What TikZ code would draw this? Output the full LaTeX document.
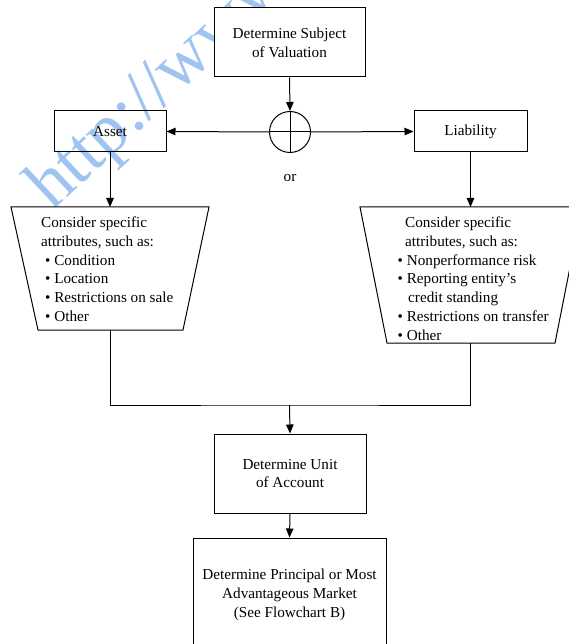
\documentclass[tikz,border=0pt]{standalone}
\usepackage{fontspec}
\setmainfont{Liberation Serif}
\usetikzlibrary{arrows.meta}
\definecolor{wmblue}{RGB}{160,196,240}
\newcommand\chartfont{\fontsize{15.2pt}{18.8pt}\selectfont}
\tikzset{
  link/.style={line width=1pt},
  arr/.style={link, -{Triangle[length=9pt,width=7.5pt]}},
  box/.style={draw, line width=1pt, fill=white, align=center, font=\chartfont, inner sep=0pt},
  attrlist/.style={align=left, font=\chartfont, inner sep=0pt, anchor=north west},
  wmark/.style={text=wmblue, font=\fontsize{72pt}{72pt}\selectfont, inner sep=0pt},
}
\begin{document}
\begin{tikzpicture}[x=1pt,y=-1pt]
\useasboundingbox (0,0) rectangle (569,644);
\begin{scope}
\clip (0,0) rectangle (569,644);

% watermark behind the chart
\node[wmark, rotate=43, anchor=base west] (wm) at (52,212) {http://www.};

% subject of valuation and the either/or junction
\node[box, minimum width=151pt, minimum height=69pt] (subj) at (289.5,42.5) {Determine Subject\\of Valuation};
\node[draw, circle, link, minimum size=41pt, inner sep=0pt] (junc) at (290,132) {};
\draw[link] (junc.north) -- (junc.south);
\draw[link] (junc.west) -- (junc.east);
\node[font=\chartfont] (orlbl) at (290,178) {or};

\node[box, fill=none, minimum width=112pt, minimum height=41pt] (asset) at (110,131.5) {Asset};
\node[box, minimum width=113pt, minimum height=41pt] (liab) at (470.5,131.5) {Liability};

\draw[arr] (subj.south) -- (junc.north);
\draw[arr] (junc.west) -- (asset.east);
\draw[arr] (junc.east) -- (liab.west);

% attribute trapezoids
\draw[link, fill=white] (11,207) -- (209,207) -- (183,330) -- (38,330) -- cycle;
\coordinate (ltop) at (110,207);
\coordinate (lbot) at (110,330);
\node[attrlist] (lattr) at (41,216.6) {Consider specific\\attributes, such as:\\
  \hspace*{4pt}• Condition\\\hspace*{4pt}• Location\\\hspace*{4pt}• Restrictions on sale\\\hspace*{4pt}• Other};

\draw[link, fill=white] (360,207) -- (582,207) -- (555,343) -- (387,343) -- cycle;
\coordinate (rtop) at (470.5,207);
\coordinate (rbot) at (470.5,343);
\node[attrlist] (rattr) at (397.5,216.6) {\hspace*{7.5pt}Consider specific\\\hspace*{7.5pt}attributes, such as:\\
  • Nonperformance risk\\• Reporting entity’s\\\hspace*{10.5pt}credit standing\\• Restrictions on transfer\\• Other};

\draw[arr] (asset.south) -- (ltop);
\draw[arr] (liab.south) -- (rtop);

% merge into unit of account
\coordinate (join) at (289.5,405);
\draw[link] (lbot) |- (join) -| (rbot);

\node[box, minimum width=152pt, minimum height=79pt] (unit) at (290,473.5) {Determine Unit\\of Account};
\node[box, minimum width=193pt, minimum height=114pt] (mkt) at (289.5,595) {Determine Principal or Most\\Advantageous Market\\(See Flowchart B)};

\draw[arr] (join) -- (unit.north);
\draw[arr] (unit.south) -- (mkt.north);
\end{scope}
\end{tikzpicture}
\end{document}
